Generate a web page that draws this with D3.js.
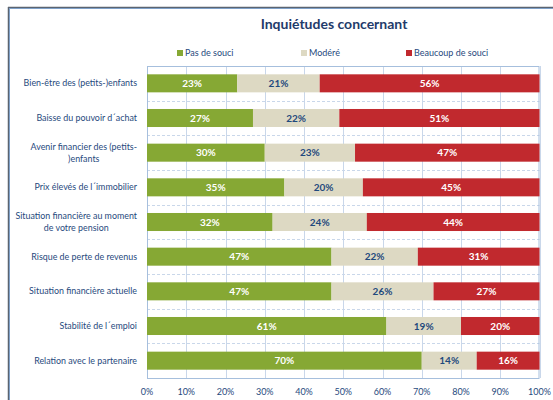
<!DOCTYPE html>
<html><head><meta charset="utf-8">
<script src="https://cdn.jsdelivr.net/npm/d3@7"></script>
<style>
html,body{margin:0;padding:0;background:#fff;}
svg{display:block;font-family:Lato,"Open Sans",sans-serif;}
</style></head>
<body>
<svg id="chart" width="553" height="400"></svg>
<script>
const categories = [
  ["Bien-être des (petits-)enfants"],
  ["Baisse du pouvoir d´achat"],
  ["Avenir financier des (petits-", ")enfants"],
  ["Prix élevés de l´immobilier"],
  ["Situation financière au moment", "de votre pension"],
  ["Risque de perte de revenus"],
  ["Situation financière actuelle"],
  ["Stabilité de l´emploi"],
  ["Relation avec le partenaire"]
];
const seriesNames = ["Pas de souci", "Modéré", "Beaucoup de souci"];
const pasDeSouci = [23, 27, 30, 35, 32, 47, 47, 61, 70];
const modere = [21, 22, 23, 20, 24, 22, 26, 19, 14];
const beaucoup = [56, 51, 47, 45, 44, 31, 27, 20, 16];
const tickValues = [0, 10, 20, 30, 40, 50, 60, 70, 80, 90, 100];
const title = "Inquiétudes concernant";

const colors = ["#86A834", "#DDD9C3", "#C1292E"];
const labelColors = ["#ffffff", "#1F497D", "#ffffff"];
const textColor = "#1F497D";

const svg = d3.select("#chart");

// frame
svg.append("line").attr("x1", 8.5).attr("x2", 8.5).attr("y1", 7).attr("y2", 400).attr("stroke", "#5B6470").attr("stroke-width", 1.5);
svg.append("line").attr("x1", 9.5).attr("x2", 9.5).attr("y1", 8).attr("y2", 400).attr("stroke", "#7FA0C8").attr("stroke-width", 1);
svg.append("line").attr("x1", 8).attr("x2", 553).attr("y1", 7.5).attr("y2", 7.5).attr("stroke", "#5B6470").attr("stroke-width", 1.5);
svg.append("line").attr("x1", 9).attr("x2", 553).attr("y1", 8.5).attr("y2", 8.5).attr("stroke", "#7FA0C8").attr("stroke-width", 1);

const pLeft = 147, pRight = 539.5, pTop = 66, pBottom = 378;
const x = d3.scaleLinear().domain([0, 100]).range([pLeft, pRight]);
const y = d3.scaleBand().domain(d3.range(categories.length)).range([pTop, pBottom]).paddingInner(0.48).paddingOuter(0.24);
const yb = d3.scaleBand().domain(d3.range(categories.length)).range([pTop, pBottom]);

// vertical grid
svg.append("g").selectAll("line").data(tickValues).join("line")
  .attr("x1", d => Math.round(x(d)) + 0.5).attr("x2", d => Math.round(x(d)) + 0.5)
  .attr("y1", pTop).attr("y2", pBottom)
  .attr("stroke", "#C9D7EA").attr("stroke-width", 1);

// dashed horizontal grid between categories
svg.append("g").selectAll("line").data(d3.range(1, categories.length)).join("line")
  .attr("x1", pLeft).attr("x2", pRight)
  .attr("y1", d => Math.round(yb(d)) + 0.5).attr("y2", d => Math.round(yb(d)) + 0.5)
  .attr("stroke", "#C9D7EA").attr("stroke-dasharray", "3,2").attr("stroke-width", 1);

// plot border
svg.append("rect").attr("x", pLeft + 0.5).attr("y", pTop + 0.5).attr("width", pRight - pLeft - 1).attr("height", pBottom - pTop)
  .attr("fill", "none").attr("stroke", "#A6BFDD").attr("stroke-width", 1);

// stacked data
const rows = categories.map((c, i) => ({ i, v: [pasDeSouci[i], modere[i], beaucoup[i]] }));
const segs = [];
rows.forEach(r => {
  let acc = 0;
  r.v.forEach((v, s) => { segs.push({ i: r.i, s, x0: acc, x1: acc + v, v }); acc += v; });
});

svg.append("g").selectAll("rect").data(segs).join("rect")
  .attr("x", d => x(d.x0)).attr("width", d => x(d.x1) - x(d.x0))
  .attr("y", d => y(d.i)).attr("height", y.bandwidth())
  .attr("fill", d => colors[d.s]);

svg.append("g").selectAll("text").data(segs).join("text")
  .attr("x", d => (x(d.x0) + x(d.x1)) / 2)
  .attr("y", d => y(d.i) + y.bandwidth() / 2)
  .attr("dy", "0.35em").attr("text-anchor", "middle")
  .attr("font-size", 10).attr("font-weight", "bold")
  .attr("fill", d => labelColors[d.s])
  .text(d => d.v + "%");

// category labels (multi-line labels centered within a right-aligned block)
const labelRight = 137;
const cl = svg.append("g").selectAll("text").data(categories).join("text")
  .attr("y", (d, i) => y(i) + y.bandwidth() / 2)
  .attr("font-size", 8.9).attr("fill", textColor);
cl.each(function(d) {
  const t = d3.select(this);
  const n = d.length;
  const spans = d.map((line, k) => t.append("tspan")
      .attr("dy", k === 0 ? ((0.35 - (n - 1) * 0.65) + "em") : "1.3em")
      .text(line));
  if (n === 1) {
    t.attr("text-anchor", "end");
    spans[0].attr("x", labelRight);
  } else {
    const w = d3.max(spans, s => s.node().getComputedTextLength());
    t.attr("text-anchor", "middle");
    spans.forEach(s => s.attr("x", labelRight - w / 2));
  }
});

// x axis labels
svg.append("g").selectAll("text").data(tickValues).join("text")
  .attr("x", d => x(d)).attr("y", 395)
  .attr("text-anchor", "middle").attr("font-size", 9).attr("fill", textColor)
  .text(d => d + "%");

// title
svg.append("text").attr("x", 334).attr("y", 29).attr("text-anchor", "middle")
  .attr("font-size", 14).attr("font-weight", "bold").attr("fill", "#1F3B6B")
  .text(title);

// legend
const legendX = [177, 301, 406];
const lg = svg.append("g").selectAll("g").data(seriesNames).join("g")
  .attr("transform", (d, i) => `translate(${legendX[i]},53)`);
lg.append("rect").attr("x", 0).attr("y", -3).attr("width", 6).attr("height", 6).attr("fill", (d, i) => colors[i]);
lg.append("text").attr("x", 8).attr("y", 0).attr("dy", "0.35em").attr("font-size", 9).attr("fill", textColor).text(d => d);
</script>
</body></html>
